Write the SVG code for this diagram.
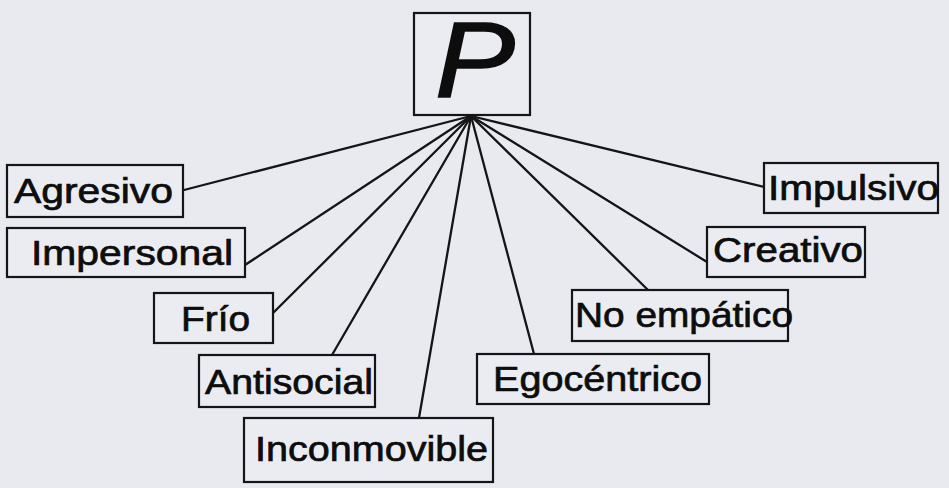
<svg xmlns="http://www.w3.org/2000/svg" width="949" height="488" viewBox="0 0 949 488">
<style>
.bg{fill:#e8eaf0}
.box{fill:#eaecf1;stroke:#151515;stroke-width:2.2}
.lbl{font-family:"Liberation Sans",Arial,sans-serif;font-size:35px;fill:#0d0d0d;stroke:#0d0d0d;stroke-width:0.7}
.conn line{stroke:#151515;stroke-width:2.3;stroke-linecap:round}
.big{font-family:"Liberation Sans",Arial,sans-serif;font-size:108px;font-style:italic;fill:#0d0d0d;stroke:#0d0d0d;stroke-width:1.6}
</style>
<rect class="bg" x="0" y="0" width="949" height="488"/>
<g id="connectors" class="conn">
<line x1="471" y1="116" x2="184" y2="190"/>
<line x1="471" y1="116" x2="245" y2="265"/>
<line x1="471" y1="116" x2="273" y2="313"/>
<line x1="471" y1="116" x2="332" y2="355"/>
<line x1="471" y1="116" x2="419" y2="418"/>
<line x1="471" y1="116" x2="534" y2="354"/>
<line x1="471" y1="116" x2="648" y2="290"/>
<line x1="471" y1="116" x2="707" y2="262"/>
<line x1="471" y1="116" x2="764" y2="187"/>
</g>
<g id="node-P">
<rect class="box" x="414" y="13" width="116" height="102"/>
<text class="big" x="435" y="97" textLength="80" lengthAdjust="spacingAndGlyphs">P</text>
</g>
<g id="node-agresivo">
<rect class="box" x="7" y="165" width="176" height="52"/>
<text class="lbl" x="14" y="203" textLength="159" lengthAdjust="spacingAndGlyphs">Agresivo</text>
</g>
<g id="node-impersonal">
<rect class="box" x="7" y="228" width="238" height="49"/>
<text class="lbl" x="31" y="265" textLength="202" lengthAdjust="spacingAndGlyphs">Impersonal</text>
</g>
<g id="node-frio">
<rect class="box" x="154" y="293" width="119" height="50"/>
<text class="lbl" x="181" y="331" textLength="69" lengthAdjust="spacingAndGlyphs">Frío</text>
</g>
<g id="node-antisocial">
<rect class="box" x="199" y="355" width="176" height="52"/>
<text class="lbl" x="205" y="394" textLength="168" lengthAdjust="spacingAndGlyphs">Antisocial</text>
</g>
<g id="node-inconmovible">
<rect class="box" x="244" y="418" width="249" height="64"/>
<text class="lbl" x="255" y="461" textLength="233" lengthAdjust="spacingAndGlyphs">Inconmovible</text>
</g>
<g id="node-egocentrico">
<rect class="box" x="477" y="354" width="232" height="50"/>
<text class="lbl" x="493" y="391" textLength="209" lengthAdjust="spacingAndGlyphs">Egocéntrico</text>
</g>
<g id="node-noempatico">
<rect class="box" x="572" y="290" width="216" height="51"/>
<text class="lbl" x="575" y="327" textLength="218" lengthAdjust="spacingAndGlyphs">No empático</text>
</g>
<g id="node-creativo">
<rect class="box" x="707" y="227" width="158" height="50"/>
<text class="lbl" x="713" y="262" textLength="150" lengthAdjust="spacingAndGlyphs">Creativo</text>
</g>
<g id="node-impulsivo">
<rect class="box" x="764" y="163" width="174" height="50"/>
<text class="lbl" x="768" y="200" textLength="171" lengthAdjust="spacingAndGlyphs">Impulsivo</text>
</g>
</svg>
